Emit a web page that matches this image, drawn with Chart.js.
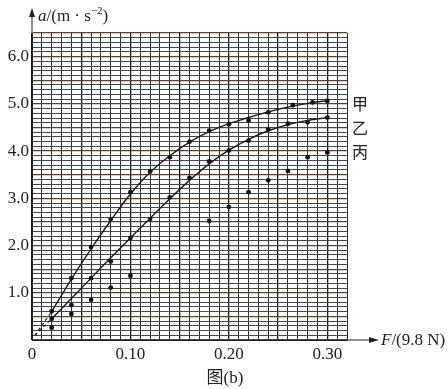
<!DOCTYPE html>
<html>
<head>
<meta charset="utf-8">
<script src="https://cdn.jsdelivr.net/npm/chart.js@4.4.1/dist/chart.umd.min.js"></script>
<style>
  html, body { margin: 0; padding: 0; background: #fff; }
  #c { display: block; }
</style>
</head>
<body>
<canvas id="c" width="448" height="389"></canvas>
<script>
// 甲 data points
const jiaF = [0.02, 0.04, 0.06, 0.08, 0.10, 0.12, 0.14, 0.16, 0.18, 0.20, 0.22, 0.24, 0.265, 0.285, 0.30];
const jiaA = [0.61, 1.31, 1.97, 2.56, 3.13, 3.57, 3.87, 4.20, 4.43, 4.57, 4.65, 4.82, 4.97, 5.03, 5.06];
// 乙 data points
const yiF = [0.02, 0.04, 0.06, 0.08, 0.10, 0.12, 0.14, 0.16, 0.18, 0.20, 0.22, 0.24, 0.26, 0.28, 0.30];
const yiA = [0.45, 0.74, 1.31, 1.66, 2.16, 2.56, 3.02, 3.43, 3.78, 4.01, 4.22, 4.46, 4.58, 4.61, 4.71];
// 丙 data points
const bingF = [0.02, 0.04, 0.06, 0.08, 0.10, 0.18, 0.20, 0.22, 0.24, 0.26, 0.28, 0.30];
const bingA = [0.26, 0.55, 0.85, 1.11, 1.36, 2.52, 2.82, 3.13, 3.38, 3.58, 3.87, 3.97];

// fitted curves
const fitF = [0.02, 0.04, 0.06, 0.08, 0.10, 0.12, 0.14, 0.16, 0.18, 0.20, 0.22, 0.24, 0.26, 0.28, 0.30];
const jiaFit = [0.60, 1.29, 1.93, 2.53, 3.09, 3.55, 3.90, 4.19, 4.41, 4.58, 4.71, 4.83, 4.93, 5.01, 5.07];
const yiFit = [0.45, 0.88, 1.31, 1.74, 2.16, 2.58, 2.99, 3.38, 3.73, 4.02, 4.25, 4.43, 4.56, 4.65, 4.71];
// dashed extensions toward the origin
const dashF = [0.003, 0.02];
const jiaDash = [0.10, 0.60];
const yiDash = [0.10, 0.45];

const seriesNames = ['甲', '乙', '丙'];
const xTitle = ['F', '/(9.8 N)'];
const yTitle = ['a', '/(m · s', '−2', ')'];
const caption = '图(b)';

function pts(xs, ys) {
  return xs.map((x, i) => ({ x: x, y: ys[i] }));
}

const serif = '"Liberation Serif", "DejaVu Serif", serif';
const ink = '#222';

const overlay = {
  id: 'overlay',
  afterDraw(chart) {
    const c = chart.ctx;
    const a = chart.chartArea;
    c.save();
    c.strokeStyle = ink;
    c.fillStyle = ink;
    c.lineWidth = 1;
    // y axis arrow
    c.beginPath();
    c.moveTo(a.left, a.top);
    c.lineTo(a.left, 12);
    c.stroke();
    c.beginPath();
    c.moveTo(a.left, 8);
    c.lineTo(a.left - 3, 17);
    c.lineTo(a.left + 3, 17);
    c.closePath();
    c.fill();
    // x axis arrow
    c.beginPath();
    c.moveTo(a.right, a.bottom);
    c.lineTo(374, a.bottom);
    c.stroke();
    c.beginPath();
    c.moveTo(379, a.bottom);
    c.lineTo(369, a.bottom - 3);
    c.lineTo(369, a.bottom + 3);
    c.closePath();
    c.fill();

    c.textBaseline = 'alphabetic';
    c.textAlign = 'left';
    // y title
    let x = 38;
    c.font = 'italic 17px ' + serif;
    c.fillText(yTitle[0], x, 21);
    x += c.measureText(yTitle[0]).width;
    c.font = '17px ' + serif;
    c.fillText(yTitle[1], x, 21);
    x += c.measureText(yTitle[1]).width;
    c.font = '11px ' + serif;
    c.fillText(yTitle[2], x, 14);
    x += c.measureText(yTitle[2]).width;
    c.font = '17px ' + serif;
    c.fillText(yTitle[3], x, 21);

    // x title
    x = 381;
    c.font = 'italic 17px ' + serif;
    c.fillText(xTitle[0], x, 345);
    x += c.measureText(xTitle[0]).width;
    c.font = '17px ' + serif;
    c.fillText(xTitle[1], x, 345);

    // series names
    c.font = '16px "Noto Sans CJK SC", sans-serif';
    c.fillStyle = ink;
    c.fillText(seriesNames[0], 352, 110);
    c.fillText(seriesNames[1], 352, 134);
    c.fillText(seriesNames[2], 352, 158);

    // caption
    c.textAlign = 'center';
    c.font = '17px ' + serif + ', "Noto Sans CJK SC"';
    c.fillText(caption, 225, 383);
    c.restore();
  }
};

const curveStyle = {
  type: 'line',
  showLine: true,
  borderColor: '#1a1a1a',
  borderWidth: 1.4,
  pointRadius: 0,
  fill: false,
  cubicInterpolationMode: 'monotone'
};
const dotStyle = {
  type: 'scatter',
  showLine: false,
  pointRadius: 2.4,
  pointBackgroundColor: '#111',
  pointBorderColor: '#111',
  pointBorderWidth: 0
};

new Chart(document.getElementById('c'), {
  type: 'scatter',
  data: {
    datasets: [
      Object.assign({ label: '甲 fit', data: pts(fitF, jiaFit) }, curveStyle),
      Object.assign({ label: '乙 fit', data: pts(fitF, yiFit) }, curveStyle),
      Object.assign({ label: '甲 dash', data: pts(dashF, jiaDash) }, curveStyle, { borderDash: [3, 3], borderWidth: 1.2 }),
      Object.assign({ label: '乙 dash', data: pts(dashF, yiDash) }, curveStyle, { borderDash: [3, 3], borderWidth: 1.2 }),
      Object.assign({ label: '甲', data: pts(jiaF, jiaA) }, dotStyle),
      Object.assign({ label: '乙', data: pts(yiF, yiA) }, dotStyle),
      Object.assign({ label: '丙', data: pts(bingF, bingA) }, dotStyle)
    ]
  },
  options: {
    responsive: false,
    animation: false,
    layout: { padding: { left: 0, right: 101, top: 33, bottom: 0 } },
    plugins: {
      legend: { display: false },
      tooltip: { enabled: false }
    },
    scales: {
      x: {
        type: 'linear',
        min: 0,
        max: 0.32,
        afterFit(s) { s.height = 49; },
        border: { display: true, color: ink, width: 1 },
        grid: {
          drawTicks: false,
          color: c => {
            if (!c.tick) return '#2a2a2a';
            const v = Math.round(c.tick.value * 100);
            return v % 5 === 0 ? '#1a1a1a' : '#333';
          },
          lineWidth: c => {
            if (!c.tick) return 1;
            const v = Math.round(c.tick.value * 100);
            return v % 5 === 0 ? 1.3 : 1;
          }
        },
        ticks: {
          stepSize: 0.01,
          autoSkip: false,
          maxTicksLimit: 100,
          maxRotation: 0,
          minRotation: 0,
          padding: 4,
          color: ink,
          font: { family: serif, size: 17 },
          callback: value => {
            const v = Math.round(value * 100);
            if (v === 0) return '0';
            if (v % 10 === 0) return (v / 100).toFixed(2);
            return '';
          }
        }
      },
      y: {
        type: 'linear',
        min: 0,
        max: 6.5,
        afterFit(s) { s.width = 32; },
        border: { display: true, color: ink, width: 1 },
        grid: {
          drawTicks: false,
          color: c => {
            if (!c.tick) return '#444';
            const v = Math.round(c.tick.value * 10);
            return v % 5 === 0 ? '#5a4030' : '#484848';
          },
          lineWidth: c => {
            if (!c.tick) return 1;
            const v = Math.round(c.tick.value * 10);
            return v % 5 === 0 ? 1.2 : 1;
          }
        },
        ticks: {
          stepSize: 0.1,
          autoSkip: false,
          maxTicksLimit: 100,
          padding: 3,
          color: ink,
          font: { family: serif, size: 17 },
          callback: value => {
            const v = Math.round(value * 10);
            if (v > 0 && v <= 60 && v % 10 === 0) return (v / 10).toFixed(1);
            return '';
          }
        }
      }
    }
  },
  plugins: [overlay]
});
</script>
</body>
</html>
